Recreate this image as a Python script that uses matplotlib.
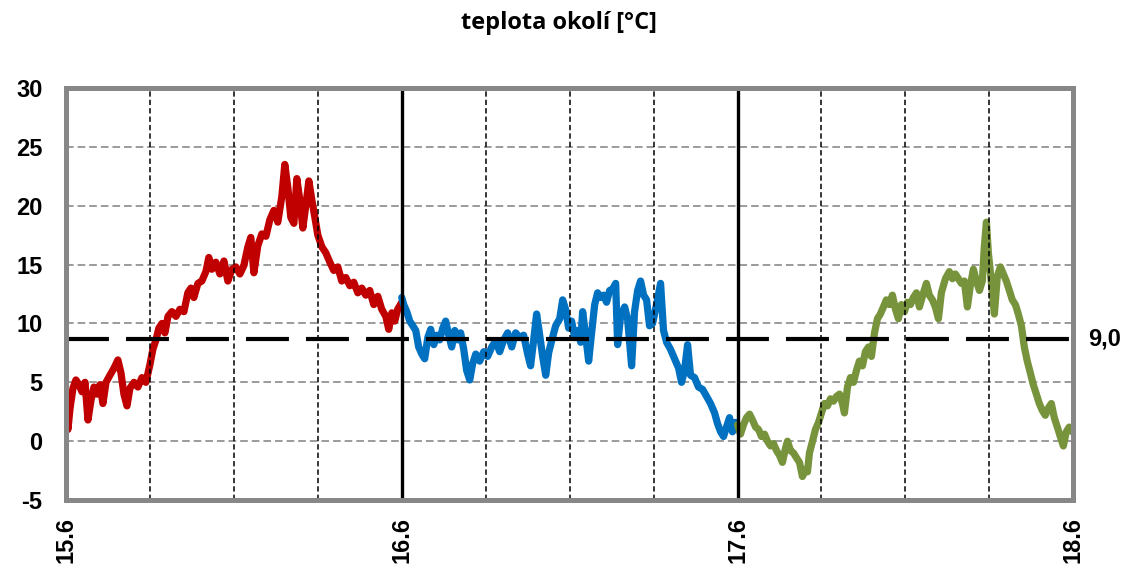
import matplotlib
matplotlib.use('Agg')
import matplotlib.pyplot as plt
from matplotlib.transforms import blended_transform_factory

plt.rcParams['font.family'] = ['Liberation Sans', 'DejaVu Sans']
plt.rcParams['axes.unicode_minus'] = False

# popisky dnu na ose x
dny = ['15.6', '16.6', '17.6', '18.6']
nadpis = 'teplota okolí [°C]'
prah = 8.7
prah_text = '9,0'

# den 15.6 (hodiny od pulnoci, teplota)
hod_1 = [0.00, 0.14, 0.29, 0.50, 0.71, 0.93, 1.14, 1.36, 1.57, 1.79, 2.00, 2.21, 2.43, 2.64,
         2.86, 3.14, 3.43, 3.71, 3.93, 4.14, 4.36, 4.57, 4.86, 5.14, 5.43, 5.71, 6.00, 6.21,
         6.43, 6.64, 6.86, 7.07, 7.29, 7.57, 7.86, 8.14, 8.43, 8.71, 8.93, 9.14, 9.43, 9.71,
         10.00, 10.21, 10.43, 10.71, 11.00, 11.29, 11.57, 11.86, 12.14, 12.43, 12.71, 13.00,
         13.21, 13.43, 13.71, 14.00, 14.29, 14.57, 14.86, 15.14, 15.43, 15.64, 15.86, 16.07,
         16.29, 16.50, 16.71, 16.93, 17.14, 17.36, 17.57, 17.79, 18.00, 18.29, 18.57, 18.86,
         19.14, 19.43, 19.71, 20.00, 20.29, 20.57, 20.86, 21.14, 21.43, 21.71, 22.00, 22.29,
         22.57, 22.86, 23.07, 23.29, 23.50, 23.71, 24.00]
tep_1 = [2.0, 1.0, 2.8, 4.5, 5.2, 4.8, 4.2, 5.0, 1.8, 3.5, 4.6, 4.0, 4.8, 3.2,
         5.0, 5.6, 6.2, 6.9, 5.8, 4.0, 3.0, 4.5, 5.0, 4.6, 5.4, 5.0, 6.5, 7.8,
         8.6, 9.6, 10.0, 9.2, 10.6, 11.0, 10.6, 11.2, 11.0, 12.6, 13.0, 12.2, 13.4, 13.6,
         14.4, 15.6, 14.6, 15.2, 14.2, 15.3, 13.6, 14.6, 14.8, 14.2, 14.9, 16.5,
         17.3, 14.3, 16.6, 17.6, 17.4, 18.8, 19.6, 18.6, 20.8, 23.5, 21.5, 19.0,
         18.5, 22.3, 20.5, 18.1, 20.0, 22.1, 20.5, 19.0, 17.5, 16.5, 16.0, 15.2,
         14.5, 14.8, 13.6, 13.9, 13.2, 13.5, 12.6, 13.0, 12.4, 12.8, 11.6, 12.3,
         11.2, 10.6, 9.5, 10.9, 10.2, 11.2, 11.8]

# den 16.6
hod_2 = [0.00, 0.14, 0.36, 0.57, 0.79, 1.00, 1.21, 1.43, 1.64, 1.86, 2.07, 2.29, 2.50, 2.71,
         2.93, 3.14, 3.36, 3.57, 3.79, 4.00, 4.21, 4.43, 4.64, 4.86, 5.07, 5.29, 5.57, 5.86,
         6.14, 6.43, 6.71, 7.00, 7.29, 7.57, 7.86, 8.14, 8.43, 8.71, 9.00, 9.21, 9.43, 9.64,
         9.86, 10.07, 10.29, 10.50, 10.71, 11.00, 11.29, 11.50, 11.71, 11.93, 12.14, 12.36,
         12.57, 12.79, 12.93, 13.14, 13.36, 13.57, 13.79, 14.00, 14.21, 14.43, 14.64, 14.86,
         15.07, 15.29, 15.43, 15.64, 15.93, 16.14, 16.43, 16.64, 16.86, 17.07, 17.29, 17.50,
         17.71, 17.93, 18.21, 18.50, 18.71, 18.93, 19.21, 19.50, 19.79, 20.00, 20.21, 20.43,
         20.64, 20.93, 21.21, 21.50, 21.79, 22.07, 22.36, 22.57, 22.79, 23.00, 23.21, 23.43,
         23.64, 23.86, 24.00]
tep_2 = [12.2, 11.6, 11.0, 10.2, 9.8, 9.4, 8.0, 7.4, 7.0, 8.8, 9.5, 8.2, 9.0, 8.6,
         9.6, 10.2, 9.0, 8.0, 9.4, 8.6, 9.2, 7.8, 6.0, 5.2, 6.6, 7.4, 6.8, 7.6,
         7.2, 8.0, 8.5, 7.6, 8.6, 9.2, 8.0, 9.2, 8.8, 9.0, 7.4, 6.4, 8.6, 10.8,
         9.0, 7.2, 5.6, 7.5, 8.5, 9.8, 10.4, 12.0, 11.2, 9.6, 10.2, 8.8,
         9.4, 8.4, 11.0, 9.0, 6.8, 9.2, 11.6, 12.6, 12.2, 12.4, 11.8, 12.8,
         12.9, 13.4, 8.2, 10.6, 11.4, 10.4, 6.4, 11.0, 12.8, 13.6, 12.4, 12.0,
         9.8, 10.0, 11.6, 13.4, 9.4, 8.4, 7.8, 7.0, 6.2, 5.0, 6.0, 8.2,
         5.6, 5.4, 4.6, 4.4, 3.8, 3.2, 2.4, 1.5, 0.8, 0.4, 1.2, 2.0,
         0.8, 1.6, 1.2]

# den 17.6
hod_3 = [0.00, 0.21, 0.43, 0.64, 0.86, 1.07, 1.29, 1.50, 1.71, 1.93, 2.14, 2.36, 2.57, 2.79,
         3.00, 3.21, 3.43, 3.57, 3.79, 4.00, 4.21, 4.43, 4.64, 4.86, 5.00, 5.14, 5.36, 5.57,
         5.79, 6.00, 6.21, 6.43, 6.64, 6.86, 7.07, 7.29, 7.50, 7.64, 7.86, 8.07, 8.29, 8.50,
         8.71, 8.93, 9.14, 9.36, 9.57, 9.79, 10.00, 10.21, 10.43, 10.64, 10.86, 11.07, 11.29,
         11.50, 11.71, 11.93, 12.14, 12.36, 12.57, 12.79, 13.00, 13.29, 13.50, 13.71, 13.93,
         14.14, 14.36, 14.57, 14.86, 15.14, 15.36, 15.57, 15.79, 16.00, 16.21, 16.43, 16.64,
         16.86, 17.07, 17.29, 17.50, 17.64, 17.79, 17.93, 18.07, 18.21, 18.36, 18.57, 18.79,
         19.00, 19.21, 19.43, 19.64, 19.86, 20.07, 20.29, 20.50, 20.71, 20.93, 21.14, 21.36,
         21.57, 21.79, 22.00, 22.21, 22.43, 22.64, 22.86, 23.07, 23.29, 23.50, 23.71, 23.93,
         24.00]
tep_3 = [1.4, 0.6, 1.4, 2.0, 2.3, 1.8, 1.2, 1.0, 0.4, 0.6, 0.0, -0.4, -0.2, -0.8,
         -1.2, -1.8, -0.6, 0.0, -0.8, -1.0, -1.4, -1.8, -3.0, -2.4, -2.6, -1.0, 0.0, 1.0,
         1.6, 2.4, 3.2, 3.0, 3.6, 3.4, 3.8, 4.0, 3.2, 2.4, 4.6, 5.4, 5.0, 6.0,
         6.8, 6.4, 7.6, 8.0, 7.2, 9.2, 10.4, 10.8, 11.4, 12.0, 11.6, 12.4, 11.2,
         10.4, 11.6, 11.0, 11.8, 11.6, 12.2, 12.6, 11.4, 12.6, 13.4, 12.4, 12.0,
         11.4, 10.4, 12.6, 13.8, 14.4, 13.8, 14.2, 13.8, 13.4, 13.6, 11.4, 13.2,
         14.6, 13.6, 12.8, 13.6, 16.5, 18.6, 16.0, 14.4, 12.6, 10.8, 14.0, 14.8,
         14.2, 13.6, 12.8, 12.0, 11.6, 10.8, 9.8, 8.0, 6.8, 5.8, 4.8, 4.0,
         3.2, 2.6, 2.2, 2.8, 3.2, 2.0, 1.2, 0.4, -0.4, 0.8, 1.2, 0.8,
         1.0]

barvy = ['#C00000', '#0070C0', '#77933C']


def kresli():
    fig = plt.figure(figsize=(11.28, 5.67), dpi=100)
    ax = fig.add_axes([0.0585, 0.118, 0.893, 0.727])

    # krivky po dnech
    for i, (h, t) in enumerate([(hod_1, tep_1), (hod_2, tep_2), (hod_3, tep_3)]):
        x = [i + v / 24 for v in h]
        ax.plot(x, t, color=barvy[i], lw=5.2, solid_joinstyle='round',
                solid_capstyle='round', zorder=3)

    # vodorovna mrizka
    for y in range(0, 30, 5):
        ax.axhline(y, color='#808080', lw=1.1, ls=(0, (5, 2.6)), zorder=1)

    # svisle carkovane po 6 hodinach, plne po dnech
    for d in range(3):
        for q in (0.25, 0.5, 0.75):
            ax.axvline(d + q, color='black', lw=1.1, ls=(0, (3.5, 2)), zorder=4)
    for d in (1, 2):
        ax.axvline(d, color='black', lw=2.4, zorder=4)

    # prahova hodnota
    ax.axhline(prah, color='black', lw=3, ls=(0, (10.3, 4.1)), zorder=5)
    tr = blended_transform_factory(ax.transAxes, ax.transData)
    ax.text(1.015, prah, prah_text, transform=tr, ha='left', va='center',
            fontsize=17, fontweight='bold', clip_on=False)

    ax.set_xlim(0, 3)
    ax.set_ylim(-5, 30)
    ax.set_yticks(range(-5, 31, 5))
    ax.set_xticks(range(4))
    ax.set_xticklabels(dny, rotation=90)
    ax.tick_params(length=0, labelsize=17)
    ax.tick_params(axis='x', pad=12)
    ax.tick_params(axis='y', pad=17)
    for lab in ax.get_xticklabels() + ax.get_yticklabels():
        lab.set_fontweight('bold')

    for s in ax.spines.values():
        s.set_color('#878787')
        s.set_linewidth(3.6)
        s.set_zorder(6)

    fig.text(0.4956, 0.96, nadpis, ha='center', va='center', fontsize=17,
             fontweight='bold', family=['Open Sans', 'DejaVu Sans'])

    fig.savefig('out.png', dpi=100)


if __name__ == '__main__':
    kresli()
